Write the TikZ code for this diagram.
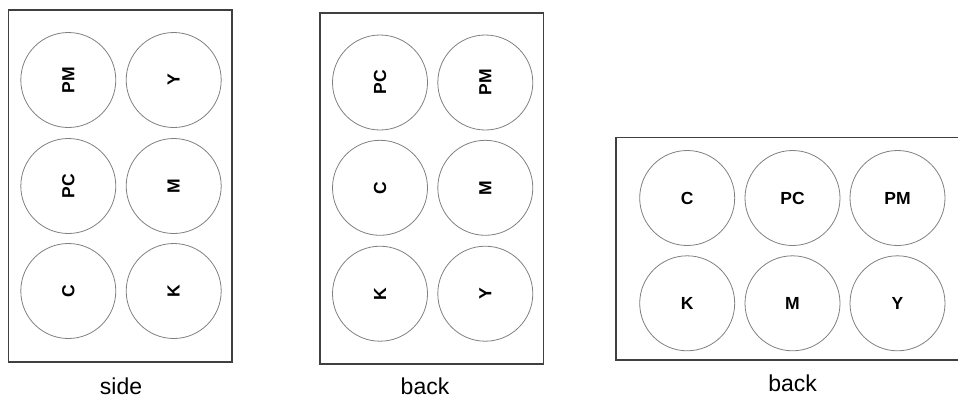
\documentclass[tikz,border=0pt]{standalone}
\usepackage{fontspec}
\setmainfont{Liberation Sans}
\begin{document}
\begin{tikzpicture}[x=1pt,y=-1pt,
  tray/.style={draw=black!75, line width=1.6pt},
  ink/.style={circle, draw=black!50, line width=0.8pt, minimum size=95pt, inner sep=0pt, font=\fontsize{17.5}{17.5}\selectfont\bfseries},
  inkr/.style={ink, rotate=90},
  caption/.style={font=\fontsize{23}{23}\selectfont, inner sep=0pt, anchor=base}]
\useasboundingbox (0,0) rectangle (958,397);
% tray 1 (side)
\draw[tray] (8.3,10) rectangle (232,362);
\node[inkr] (a1) at (68.3,80) {PM};
\node[inkr] (a2) at (173.7,80) {Y};
\node[inkr] (a3) at (68.3,186) {PC};
\node[inkr] (a4) at (173.7,186) {M};
\node[inkr] (a5) at (68.3,291) {C};
\node[inkr] (a6) at (173.7,291) {K};
\node[caption] (l1) at (121,394) {side};
% tray 2 (back)
\draw[tray] (320,12.7) rectangle (543.3,364);
\node[inkr] (b1) at (380,82.5) {PC};
\node[inkr] (b2) at (485.3,82.5) {PM};
\node[inkr] (b3) at (380,187.8) {C};
\node[inkr] (b4) at (485.3,187.8) {M};
\node[inkr] (b5) at (380,293.7) {K};
\node[inkr] (b6) at (485.3,293.7) {Y};
\node[caption] (l2) at (425,394) {back};
% tray 3 (back)
\draw[tray] (615.7,137.3) -- (959,137.3) (615.7,137.3) -- (615.7,360) -- (959,360);
\node[ink] (c1) at (687.2,198) {C};
\node[ink] (c2) at (792.5,198) {PC};
\node[ink] (c3) at (897.5,198) {PM};
\node[ink] (c4) at (687.2,303.3) {K};
\node[ink] (c5) at (792.5,303.3) {M};
\node[ink] (c6) at (897.5,303.3) {Y};
\node[caption] (l3) at (792.7,391) {back};
\end{tikzpicture}
\end{document}
